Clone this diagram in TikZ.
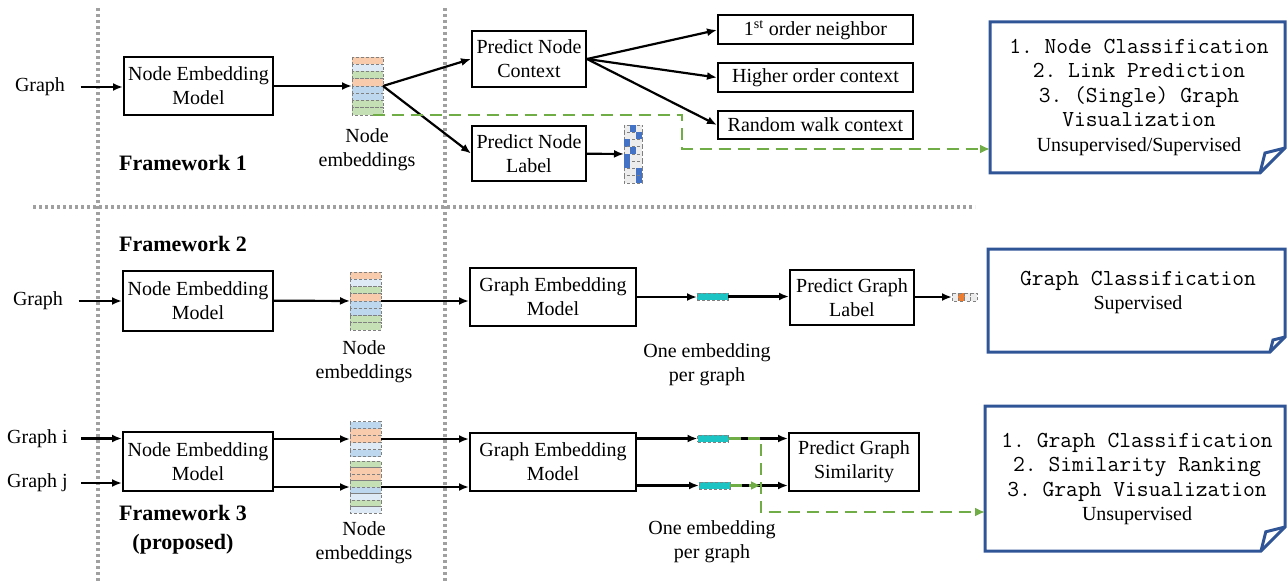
\documentclass[tikz,border=0pt]{standalone}
\usepackage{fontspec}
\setmainfont{Liberation Serif}
\setmonofont{Latin Modern Mono}
\usetikzlibrary{arrows.meta}
\definecolor{eorange}{HTML}{F8CBAD}
\definecolor{elblue}{HTML}{DEEBF7}
\definecolor{eblue}{HTML}{BDD7EE}
\definecolor{egreen}{HTML}{C5E0B4}
\definecolor{vblue}{HTML}{4472C4}
\definecolor{vgray}{HTML}{EDEDED}
\definecolor{vorange}{HTML}{ED7D31}
\definecolor{bcyan}{HTML}{1CC4C4}
\definecolor{gline}{HTML}{70AD47}
\definecolor{noteblue}{HTML}{2F5597}
\definecolor{dotcol}{HTML}{A0A0A0}
\newcommand\embrows[4]{\foreach \c [count=\i from 0] in {#4}
	\filldraw[embrow,fill=\c] (#1,#2+\i*#3) rectangle ++(31,#3);}
\newcommand\foldnote[2]{%
	\draw[noteline] (#1.south west) -- (#1.north west) -- (#1.north east) -- ([yshift=#2pt]#1.south east) -- ([xshift=-#2pt]#1.south east) -- cycle;
	\draw[noteline] ([xshift=-#2pt]#1.south east) -- ([xshift=-0.8*#2pt,yshift=0.8*#2pt]#1.south east) -- ([yshift=#2pt]#1.south east);}
\begin{document}
\begin{tikzpicture}[x=1pt,y=-1pt,font=\fontsize{20}{24}\selectfont,
	box/.style={draw,line width=2pt,align=center,inner sep=0pt},
	slot/.style={inner sep=0pt,outer sep=0pt},
	bar/.style={slot,fill=bcyan,draw=gray,densely dashed,line width=0.6pt,minimum width=31pt,minimum height=7pt},
	arr/.style={line width=2.2pt,-{Latex[length=10pt,width=8pt]}},
	sep/.style={line width=3.5pt,dotcol,dash pattern=on 3pt off 3pt},
	gdash/.style={line width=2.5pt,gline,dash pattern=on 12pt off 7pt,-{Latex[length=10pt,width=9pt]}},
	embrow/.style={draw=gray,densely dashed,line width=0.6pt},
	noteline/.style={line width=3pt,noteblue,line join=miter},
	notetxt/.style={align=center,font=\fontsize{22.9}{24.5}\selectfont\ttfamily},
	fw/.style={font=\fontsize{22}{29}\selectfont\bfseries,align=center},
	txt/.style={align=center}]
	\useasboundingbox (0,0) rectangle (1288,583);
	\draw[sep] (98,8) -- (98,583);
	\draw[sep] (445,8) -- (445,583);
	\draw[sep] (33,207) -- (975,207);

	\node[txt] (g1) at (40,87) {Graph};
	\node[box,minimum width=149pt,minimum height=58pt] (nem1) at (198.5,86) {Node Embedding\\Model};
	\embrows{352}{57}{7.25}{eorange,elblue,egreen,eorange,eblue,eblue,egreen,egreen}
	\node[slot,minimum width=31pt,minimum height=58pt] (emb1) at (367.5,86) {};
	\node[txt] (et1) at (367,150) {Node\\embeddings};
	\node[box,minimum width=114pt,minimum height=56pt] (pnc) at (529,59) {Predict Node\\Context};
	\node[box,minimum width=114pt,minimum height=55pt] (pnl) at (529,153.5) {Predict Node\\Label};
	\foreach \b [count=\i from 0] in {2,3,1,2,1,1,3,3} {
		\filldraw[embrow,fill=vgray] (624,125+\i*7.25) rectangle ++(18,7.25);
		\fill[vblue] (618+\b*6,125+\i*7.25) rectangle ++(6,7.25);}
	\node[slot,minimum width=18pt,minimum height=58pt] (lab) at (633,154) {};
	\node[box,minimum width=195pt,minimum height=29pt] (o1) at (815.5,30) {1\textsuperscript{st} order neighbor};
	\node[box,minimum width=195pt,minimum height=29pt] (o2) at (815.5,77.5) {Higher order context};
	\node[box,minimum width=195pt,minimum height=28pt] (o3) at (815.5,125) {Random walk context};
	\node[slot,minimum width=295pt,minimum height=151pt] (note1) at (1137.5,97.5) {};
	\foldnote{note1}{25}
	\node[notetxt] (nt1) at (1139,97) {1. Node Classification\\2. Link Prediction\\3. (Single) Graph\\Visualization\\{\rmfamily\fontsize{20}{24.5}\selectfont Unsupervised/Supervised}};
	\node[fw] (fw1) at (183,163) {Framework 1};

	\draw[arr,shorten <=12pt] (g1.east) -- (g1.east -| nem1.west);
	\draw[arr] (nem1) -- (emb1);
	\draw[arr] (emb1.east) -- (pnc.west);
	\draw[arr] (emb1.east) -- (pnl.west);
	\draw[arr] (pnl) -- (lab);
	\draw[arr] (pnc.east) -- (o1.west);
	\draw[arr] (pnc.east) -- (o2.west);
	\draw[arr] (pnc.east) -- (o3.west);
	\coordinate (d1) at (682,149);
	\draw[gdash] ([xshift=5pt]emb1.south) -| (d1) -- (d1 -| note1.west);

	\node[fw] (fw2) at (183,244) {Framework 2};
	\node[txt] (g2) at (38,301) {Graph};
	\node[box,minimum width=150pt,minimum height=60pt] (nem2) at (198,300.5) {Node Embedding\\Model};
	\embrows{350}{272}{7.25}{eorange,elblue,egreen,eorange,eblue,eblue,egreen,egreen}
	\node[slot,minimum width=31pt,minimum height=58pt] (emb2) at (365.5,301) {};
	\node[txt] (et2) at (364,362) {Node\\embeddings};
	\node[box,minimum width=166pt,minimum height=58pt] (gem2) at (553,297) {Graph Embedding\\Model};
	\node[bar] (bar2) at (712.5,296.5) {};
	\node[txt] (oe2) at (707,365) {One embedding\\per graph};
	\node[box,minimum width=124pt,minimum height=55pt] (pgl) at (852,297.5) {Predict Graph\\Label};
	\foreach \c [count=\i from 0] in {vgray,vorange,vgray,vgray}
		\filldraw[embrow,fill=\c] (952+\i*6.25,293) rectangle ++(6.25,8);
	\node[slot,minimum width=25pt,minimum height=8pt] (out2) at (964.5,297) {};
	\node[slot,minimum width=297pt,minimum height=103pt] (note2) at (1136.5,300.5) {};
	\foldnote{note2}{15}
	\node[notetxt] (nt2) at (1138,292.5) {Graph Classification\\{\rmfamily\fontsize{20}{24.5}\selectfont Supervised}};

	\draw[arr,shorten <=12pt] (g2.east) -- (g2.east -| nem2.west);
	\draw[arr] (nem2) -- (emb2);
	\draw[arr] (emb2.east) -- (emb2.east -| gem2.west);
	\draw[arr] (gem2.east) -- (gem2.east -| bar2.west);
	\draw[arr] (bar2) -- (bar2 -| pgl.west);
	\draw[arr] (pgl.east |- out2) -- (out2);

	\node[txt] (gi) at (37.5,438.5) {Graph i};
	\node[txt] (gj) at (37.5,483) {Graph j};
	\node[box,minimum width=150pt,minimum height=59pt] (nem3) at (198,461.5) {Node Embedding\\Model};
	\embrows{350}{421.5}{7}{eblue,eorange,eorange,elblue,eblue}
	\node[slot,minimum width=31pt,minimum height=35pt] (embi) at (365.5,439) {};
	\embrows{350}{461}{6.5}{egreen,eorange,eorange,egreen,eblue,elblue,egreen,elblue}
	\node[slot,minimum width=31pt,minimum height=52pt] (embj) at (365.5,487) {};
	\node[txt] (et3) at (364,543) {Node\\embeddings};
	\node[box,minimum width=166pt,minimum height=58pt] (gem3) at (553,462) {Graph Embedding\\Model};
	\node[bar] (bari) at (713,438.5) {};
	\node[bar] (barj) at (714.5,485.5) {};
	\node[txt] (oe3) at (712,542) {One embedding\\per graph};
	\node[box,minimum width=130pt,minimum height=58pt] (pgs) at (854,462) {Predict Graph\\Similarity};
	\node[slot,minimum width=300pt,minimum height=145pt] (note3) at (1135,478.5) {};
	\foldnote{note3}{24}
	\node[notetxt] (nt3) at (1137,479) {1. Graph Classification\\2. Similarity Ranking\\3. Graph Visualization\\{\rmfamily\fontsize{20}{24.5}\selectfont Unsupervised}};
	\node[fw] (fw3) at (183,530) {Framework 3\\(proposed)};

	\draw[arr,shorten <=10pt] (gi.east) -- (gi.east -| nem3.west);
	\draw[arr,shorten <=10pt] (gj.east) -- (gj.east -| nem3.west);
	\draw[arr] (nem3.east |- embi) -- (embi.west);
	\draw[arr] (nem3.east |- embj) -- (embj.west);
	\draw[arr] (embi.east) -- (embi.east -| gem3.west);
	\draw[arr] (embj.east) -- (embj.east -| gem3.west);
	\draw[arr] (gem3.east |- bari) -- (bari.west);
	\draw[arr] (gem3.east |- barj) -- (barj.west);
	\draw[arr] (bari.east) -- (bari.east -| pgs.west);
	\draw[arr] (barj.east) -- (barj.east -| pgs.west);
	\coordinate (d3) at (761,512);
	\draw[gdash] (bari.east) -| (d3) -- (d3 -| note3.west);
	\draw[gdash] (barj.east) -- (barj.east -| d3);
\end{tikzpicture}
\end{document}
